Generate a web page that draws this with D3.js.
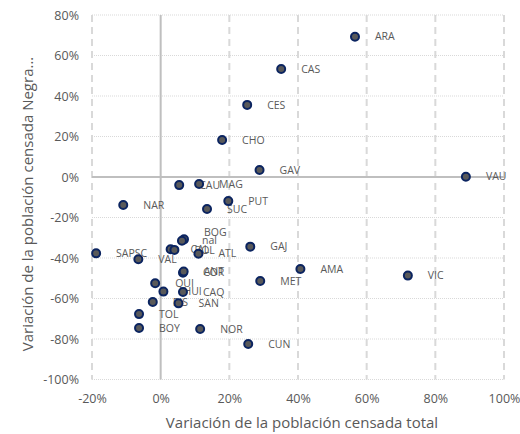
<!DOCTYPE html>
<html>
<head>
<meta charset="utf-8">
<script src="https://cdn.jsdelivr.net/npm/d3@7"></script>
<style>
  html, body { margin: 0; padding: 0; background: #fff; }
  svg { display: block; font-family: "Open Sans", "Noto Sans", sans-serif; }
</style>
</head>
<body>
<svg id="chart" width="520" height="434"></svg>
<script>
// ---- data (fractions) ----
const labels = ["ARA","CAS","CES","CHO","GAV","VAU","CAU","MAG","PUT","SUC","NAR",
  "BOG","nal","CAL","BOL","ATL","SAPSC","VAL","GAJ","AMA","MET","VIC",
  "COR","ANT","QUI","HUI","CAQ","RIS","SAN","TOL","BOY","NOR","CUN"];
const xValues = [0.566,0.351,0.252,0.179,0.288,0.889,0.054,0.112,0.197,0.135,-0.109,
  0.068,0.062,0.029,0.040,0.110,-0.188,-0.065,0.261,0.407,0.290,0.720,
  0.065,0.067,-0.016,0.008,0.065,-0.023,0.052,-0.063,-0.063,0.115,0.255];
const yValues = [0.693,0.533,0.356,0.183,0.035,0.001,-0.040,-0.035,-0.119,-0.158,-0.138,
  -0.308,-0.315,-0.357,-0.360,-0.379,-0.377,-0.406,-0.344,-0.454,-0.514,-0.487,
  -0.473,-0.467,-0.525,-0.566,-0.568,-0.617,-0.624,-0.677,-0.746,-0.751,-0.825];
const xTicks = [-0.2,0,0.2,0.4,0.6,0.8,1.0];
const yTicks = [-1.0,-0.8,-0.6,-0.4,-0.2,0,0.2,0.4,0.6,0.8];
const xTitle = "Variación de la población censada total";
const yTitle = "Variación de la población censada Negra...";
// small label nudges (px) where the reference shows a shifted label
const labelNudge = { BOG: -7 };

const points = labels.map((l, i) => ({ label: l, x: xValues[i], y: yValues[i] }));

const svg = d3.select("#chart");
const pLeft = 92, pRight = 504, pTop = 15, pBottom = 379.5;
const x = d3.scaleLinear().domain([-0.2, 1.0]).range([pLeft, pRight]);
const y = d3.scaleLinear().domain([-1.0, 0.8]).range([pBottom, pTop]);
const pct = d => d3.format(".0%")(d).replace("−", "-");

// horizontal dotted gridlines
svg.append("g").selectAll("line").data(yTicks.filter(t => t !== 0)).join("line")
  .attr("x1", pLeft).attr("x2", pRight)
  .attr("y1", d => y(d)).attr("y2", d => y(d))
  .attr("stroke", "#d9d9d9").attr("stroke-width", 1).attr("stroke-dasharray", "1,1");
// vertical dashed gridlines
svg.append("g").selectAll("line").data(xTicks.filter(t => t !== 0)).join("line")
  .attr("x1", d => x(d)).attr("x2", d => x(d))
  .attr("y1", pTop).attr("y2", pBottom)
  .attr("stroke", "#d9d9d9").attr("stroke-width", 2).attr("stroke-dasharray", "7,5");
// zero lines
svg.append("line").attr("x1", pLeft).attr("x2", pRight).attr("y1", y(0)).attr("y2", y(0))
  .attr("stroke", "#bfbfbf").attr("stroke-width", 2);
svg.append("line").attr("x1", x(0)).attr("x2", x(0)).attr("y1", pTop).attr("y2", pBottom)
  .attr("stroke", "#bfbfbf").attr("stroke-width", 2);

// axes
const yAxis = svg.append("g").attr("transform", `translate(${pLeft},0)`)
  .call(d3.axisLeft(y).tickValues(yTicks).tickFormat(pct).tickSize(0).tickPadding(13));
const xAxis = svg.append("g").attr("transform", `translate(0,${pBottom})`)
  .call(d3.axisBottom(x).tickValues(xTicks).tickFormat(pct).tickSize(0).tickPadding(15));
[yAxis, xAxis].forEach(g => {
  g.select(".domain").remove();
  g.selectAll("text").attr("fill", "#595959").style("font-size", "12.5px")
    .style("font-family", "'Open Sans', 'Noto Sans', sans-serif");
});

// axis titles
svg.append("text").attr("x", (pLeft + pRight) / 2 + 4).attr("y", 428)
  .attr("text-anchor", "middle").attr("fill", "#595959").style("font-size", "15px")
  .text(xTitle);
svg.append("text").attr("transform", `translate(28,204) rotate(-90)`)
  .attr("dy", "0.35em")
  .attr("text-anchor", "middle").attr("fill", "#595959").style("font-size", "15px")
  .text(yTitle);

// labels (drawn beneath points)
svg.append("g").selectAll("text").data(points).join("text")
  .attr("x", d => x(d.x) + 20)
  .attr("y", d => y(d.y) + (labelNudge[d.label] || 0))
  .attr("dy", "0.35em")
  .attr("fill", "#595959").style("font-size", "10.5px")
  .text(d => d.label);

// points
svg.append("g").selectAll("circle").data(points).join("circle")
  .attr("cx", d => x(d.x)).attr("cy", d => y(d.y)).attr("r", 4)
  .attr("fill", "#595959").attr("stroke", "#0b2460").attr("stroke-width", 2);
</script>
</body>
</html>
